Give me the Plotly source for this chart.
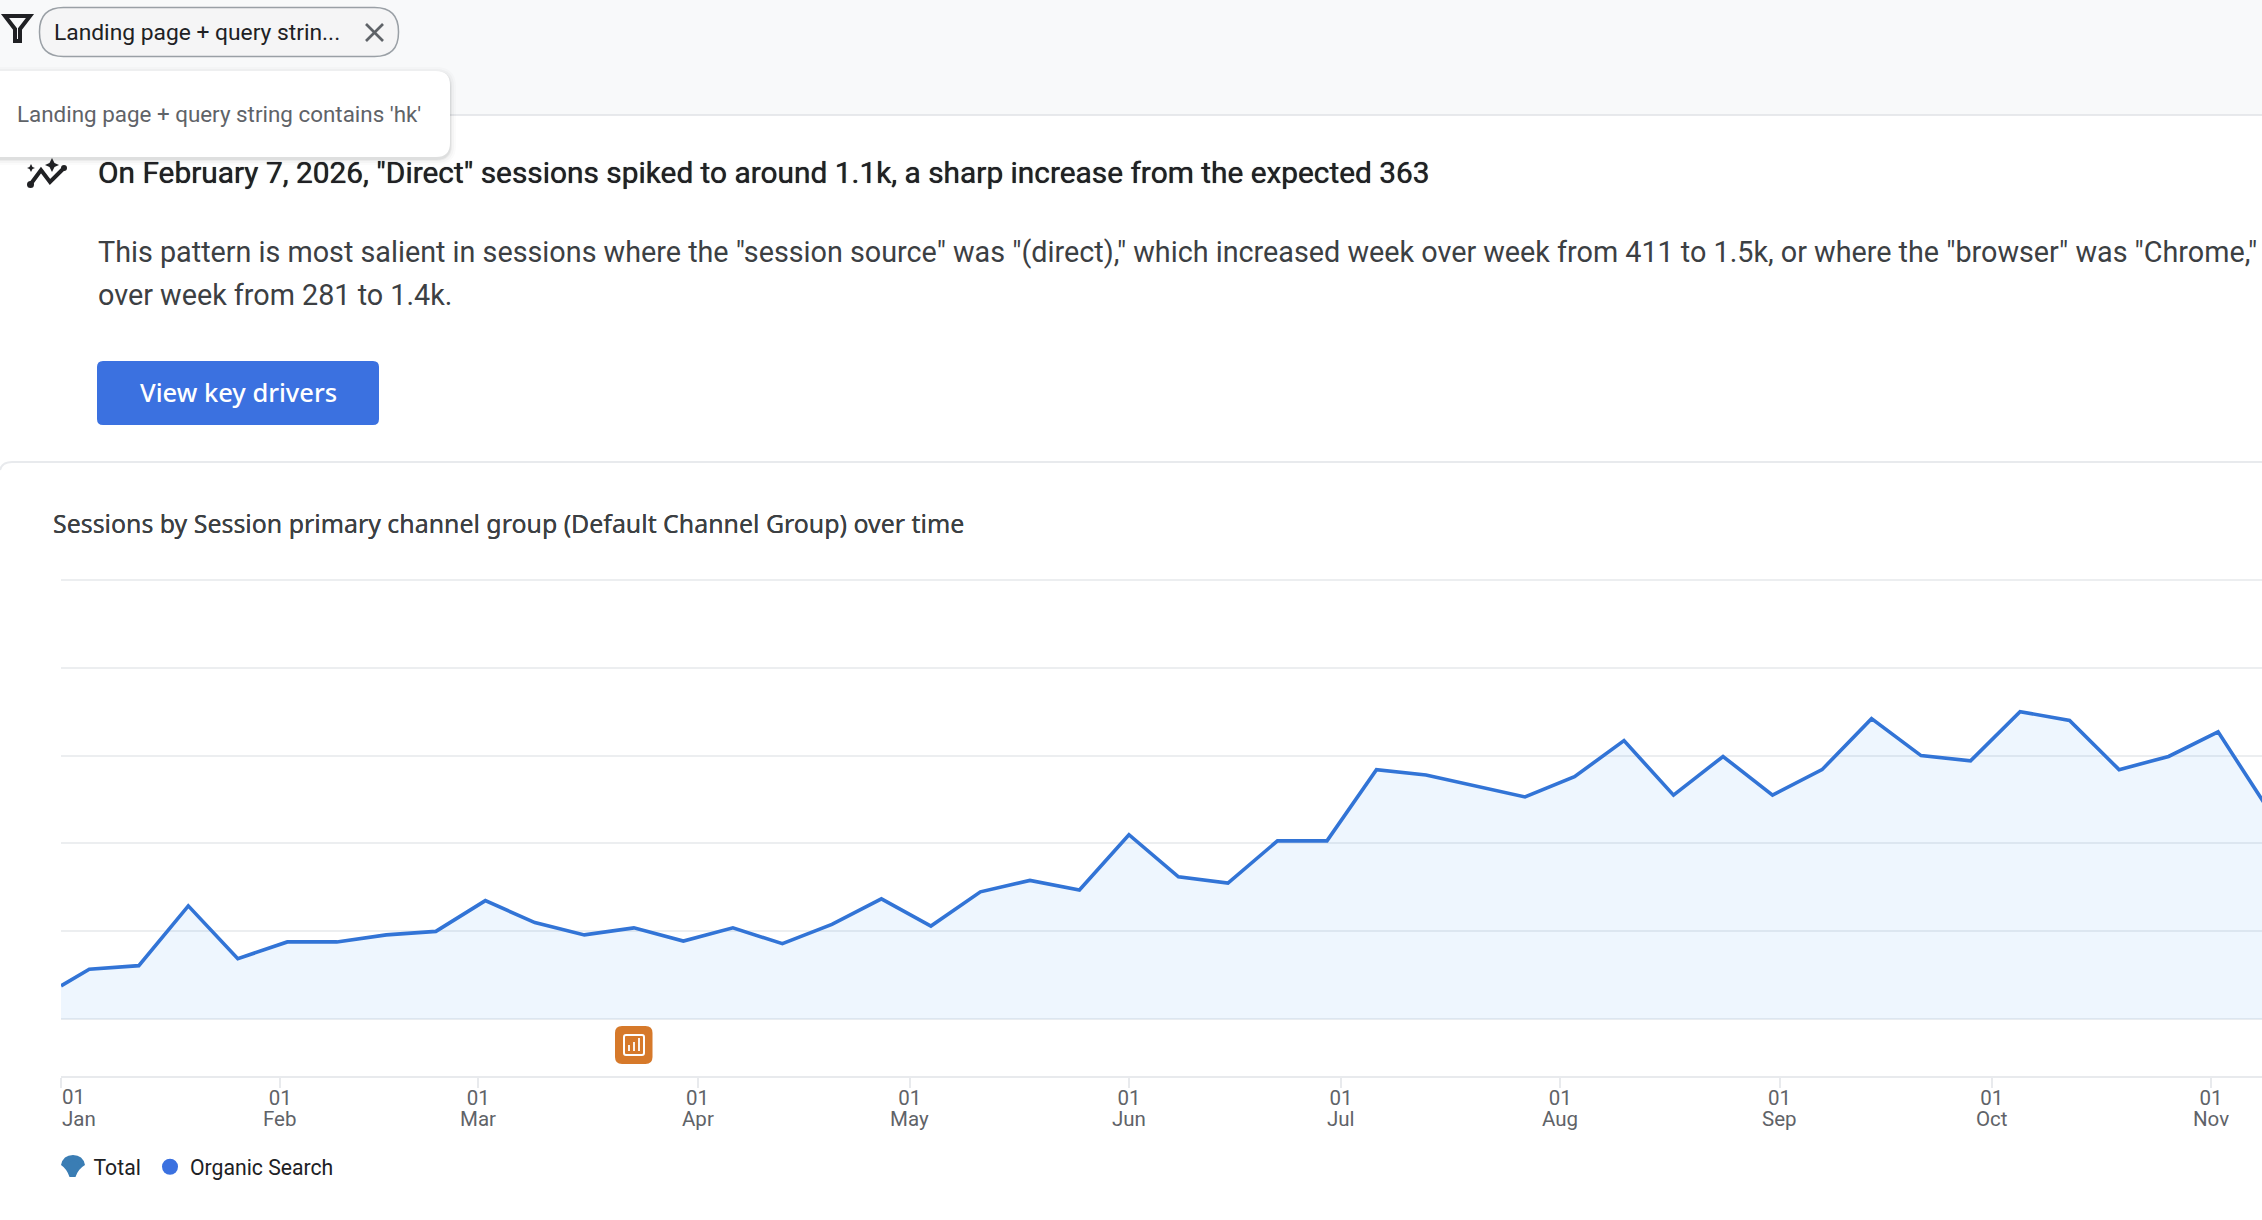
import plotly.graph_objects as go

W = 2262
H = 1220

# weekly sessions, first point is the partial week from 1 Jan
week_dates = ['2025-01-01', '2025-01-05', '2025-01-12', '2025-01-19', '2025-01-26', '2025-02-02', '2025-02-09',
              '2025-02-16', '2025-02-23', '2025-03-02', '2025-03-09', '2025-03-16', '2025-03-23', '2025-03-30',
              '2025-04-06', '2025-04-13', '2025-04-20', '2025-04-27', '2025-05-04', '2025-05-11', '2025-05-18',
              '2025-05-25', '2025-06-01', '2025-06-08', '2025-06-15', '2025-06-22', '2025-06-29', '2025-07-06',
              '2025-07-13', '2025-07-20', '2025-07-27', '2025-08-03', '2025-08-10', '2025-08-17', '2025-08-24',
              '2025-08-31', '2025-09-07', '2025-09-14', '2025-09-21', '2025-09-28', '2025-10-05', '2025-10-12',
              '2025-10-19', '2025-10-26', '2025-11-02', '2025-11-09']
sessions = [38, 57, 61, 129, 69, 88, 88, 96, 100, 135, 110, 96, 104, 89, 104, 86, 108, 137, 106, 145, 158, 147,
            210, 162, 155, 203, 203, 284, 278, 266, 253, 276, 317, 255, 299, 255, 284, 342, 300, 294, 350, 340,
            284, 299, 327, 240]

tick_dates = ['2025-01-01', '2025-02-01', '2025-03-01', '2025-04-01', '2025-05-01', '2025-06-01', '2025-07-01',
              '2025-08-01', '2025-09-01', '2025-10-01', '2025-11-01']
tick_days = ['', '01', '01', '01', '01', '01', '01', '01', '01', '01', '01']
tick_months = ['Jan', 'Feb', 'Mar', 'Apr', 'May', 'Jun', 'Jul', 'Aug', 'Sep', 'Oct', 'Nov']
grid_values = [0, 100, 200, 300, 400, 500]

INK = '#202124'
GREY = '#5f6368'
BLUE = '#3274d6'
TOTAL_BLUE = '#3a7db4'
FONT = 'Roboto'
SANS = 'Noto Sans'
TICK_SIZE = 20.5


#helpers to place page furniture by screen pixel
def px(x):
    return x / W


def py(y):
    return 1 - y / H


def rounded(x0, y0, x1, y1, r):
    return (f'M {px(x0 + r)} {py(y0)} L {px(x1 - r)} {py(y0)} Q {px(x1)} {py(y0)} {px(x1)} {py(y0 + r)} '
            f'L {px(x1)} {py(y1 - r)} Q {px(x1)} {py(y1)} {px(x1 - r)} {py(y1)} '
            f'L {px(x0 + r)} {py(y1)} Q {px(x0)} {py(y1)} {px(x0)} {py(y1 - r)} '
            f'L {px(x0)} {py(y0 + r)} Q {px(x0)} {py(y0)} {px(x0 + r)} {py(y0)} Z')


def poly(points, close=False):
    path = ' '.join(('M' if i == 0 else 'L') + f' {px(x)} {py(y)}' for i, (x, y) in enumerate(points))
    return path + (' Z' if close else '')


def path_shape(path, fill='rgba(0,0,0,0)', line=None, width=0, layer='above'):
    return dict(type='path', xref='paper', yref='paper', path=path, fillcolor=fill, layer=layer,
                line=dict(color=line or 'rgba(0,0,0,0)', width=width))


def label(x, y, text, size, color=INK, weight=400, family=FONT, shadow='none'):
    return dict(xref='paper', yref='paper', x=px(x), y=py(y), text=text, showarrow=False, xanchor='left',
                yanchor='middle', align='left', borderpad=0,
                font=dict(family=family, size=size, color=color, weight=weight, shadow=shadow))


def month_label(x, y, text, anchor):
    return dict(xref='x', yref='paper', x=x, y=py(y), text=text, showarrow=False, xanchor=anchor, yanchor='middle',
                borderpad=0, font=dict(family=FONT, size=TICK_SIZE, color=GREY))


total_marker = (f'M {px(61)} {py(1165)} Q {px(63)} {py(1155)} {px(73)} {py(1155)} Q {px(83)} {py(1155)} {px(85)} {py(1165)} '
                f'Q {px(78)} {py(1169)} {px(75.5)} {py(1177)} L {px(69.5)} {py(1177)} Q {px(67)} {py(1169)} {px(61)} {py(1165)} Z')

shapes = [
    # top bar
    dict(type='rect', xref='paper', yref='paper', x0=0, x1=1, y0=py(115), y1=1, fillcolor='#f8f9fa', line_width=0, layer='below'),
    dict(type='line', xref='paper', yref='paper', x0=0, x1=1, y0=py(115), y1=py(115), line=dict(color='#e0e2e6', width=1.5), layer='below'),
    # filter icon and chip
    path_shape(poly([(5, 16), (30, 16), (20, 29), (20, 41), (15, 41), (15, 29)], True), line=INK, width=4),
    path_shape(rounded(39.5, 7.5, 398.5, 56.5, 24), fill='#f5f5f6', line='#9aa0a6', width=1.5),
    path_shape(poly([(366, 24), (383, 41)]), line=GREY, width=2.6),
    path_shape(poly([(383, 24), (366, 41)]), line=GREY, width=2.6),
    # card holding the chart
    path_shape(f'M 0 {py(470)} Q {px(2)} {py(462)} {px(12)} {py(462)} L 1 {py(462)}', line='#e8eaed', width=2, layer='below'),
    # insight icon
    path_shape(poly([(30, 185), (41, 170), (50, 182), (64, 168)]), line=INK, width=4),
    dict(type='circle', xref='paper', yref='paper', x0=px(27), x1=px(34), y0=py(188), y1=py(181), fillcolor=INK, line_width=0),
    dict(type='circle', xref='paper', yref='paper', x0=px(61), x1=px(67), y0=py(171), y1=py(165), fillcolor=INK, line_width=0),
    path_shape(poly([(52, 158), (54.5, 163), (59, 165), (54.5, 167), (52, 172), (49.5, 167), (45, 165), (49.5, 163)], True), fill=INK),
    path_shape(poly([(31, 164), (32.5, 167), (35, 168), (32.5, 169), (31, 172), (29.5, 169), (27, 168), (29.5, 167)], True), fill=INK),
    # button
    path_shape(rounded(97, 361, 379, 425, 6), fill='#3b71e0'),
    # annotation badge
    path_shape(rounded(615, 1026, 652.5, 1064, 7), fill='#d6792a'),
    path_shape(rounded(624, 1035, 644, 1055, 2), line='#ffffff', width=2),
    path_shape(poly([(629, 1045), (629, 1051)]), line='#ffffff', width=1.8),
    path_shape(poly([(634, 1042), (634, 1051)]), line='#ffffff', width=1.8),
    path_shape(poly([(639, 1038), (639, 1051)]), line='#ffffff', width=1.8),
    # Total legend marker is a fan with a stem, the legend dot sits inside it
    path_shape(total_marker, fill=TOTAL_BLUE),
]

# tooltip with a soft shadow
for grow, alpha in [(6, 0.02), (4, 0.03), (2, 0.05), (1, 0.07)]:
    shapes.append(path_shape(rounded(-20 - grow, 71 - grow + 2, 450 + grow, 157 + grow + 2, 14 + grow), fill=f'rgba(60,64,67,{alpha})'))
shapes.append(path_shape(rounded(-20, 71, 450, 157, 14), fill='#ffffff'))

annotations = [
    label(53, 32, 'Landing page + query strin...', 22.8),
    label(16, 114, "Landing page + query string contains 'hk'", 22.4, GREY),
    label(97, 172.5, 'On February 7, 2026, "Direct" sessions spiked to around 1.1k, a sharp increase from the expected 363', 29.85, INK, 400,
          shadow='0 0 0.7px #202124'),
    label(97, 252, 'This pattern is most salient in sessions where the "session source" was "(direct)," which increased week over week from 411 to 1.5k, or where the "browser" was "Chrome,"', 28.75, '#3c4043'),
    label(97, 295, 'over week from 281 to 1.4k.', 28.75, '#3c4043'),
    label(139, 392, 'View key drivers', 25.5, '#ffffff', 500, SANS),
    label(52, 523, 'Sessions by Session primary channel group (Default Channel Group) over time', 24.9, '#3c4043', 400, SANS,
          shadow='0 0 0.4px #3c4043'),
    # first tick label sits inside the plot edge, left aligned
    month_label(tick_dates[0], 1097, '01', 'left'),
    month_label(tick_dates[0], 1119, tick_months[0], 'left'),
]
for d, m in zip(tick_dates[1:], tick_months[1:]):
    annotations.append(month_label(d, 1119, m, 'center'))

fig = go.Figure()
fig.add_trace(go.Scatter(x=week_dates, y=sessions, mode='lines', showlegend=False, fill='tozeroy',
                         fillcolor='rgba(60,150,245,0.085)', line=dict(color=BLUE, width=3.6)))
#legend only entries
fig.add_trace(go.Scatter(x=[None], y=[None], mode='markers', name='Total', legend='legend', marker=dict(color=TOTAL_BLUE, size=12)))
fig.add_trace(go.Scatter(x=[None], y=[None], mode='markers', name='Organic Search', legend='legend2', marker=dict(color='#3b71e0', size=18)))

legend_style = dict(orientation='h', xanchor='left', yanchor='middle', font=dict(family=FONT, size=21.2, color=INK),
                    bgcolor='rgba(0,0,0,0)', itemclick=False)
fig.update_layout(
    width=W, height=H, autosize=False, margin=dict(l=0, r=0, t=0, b=0),
    paper_bgcolor='#ffffff', plot_bgcolor='rgba(0,0,0,0)',
    font=dict(family=FONT),
    shapes=shapes, annotations=annotations,
    legend=dict(x=px(53.5), y=py(1167), **legend_style),
    legend2=dict(x=px(150), y=py(1167), **legend_style),
)
fig.update_xaxes(domain=[px(61), 1], range=['2025-01-01', '2025-11-08 05:00'], tickmode='array', tickvals=tick_dates, ticktext=tick_days,
                 tickfont=dict(family=FONT, size=TICK_SIZE, color=GREY), ticks='outside', ticklen=10, tickwidth=1.5, tickcolor='#e8eaed',
                 ticklabelstandoff=-7, showline=True, linecolor='#e8eaed', linewidth=2, showgrid=False, zeroline=False)
fig.update_yaxes(domain=[py(1075.7), py(571)], range=[-64.2, 510], tickmode='array', tickvals=grid_values, showticklabels=False,
                 gridcolor='#eceef0', gridwidth=2, zeroline=False, ticks='')

# plain page with no body margin so the figure starts at the window corner
fig.write_html("out.html", config={'displayModeBar': False},
               post_script="document.body.style.margin='0';document.body.style.overflow='hidden';")
